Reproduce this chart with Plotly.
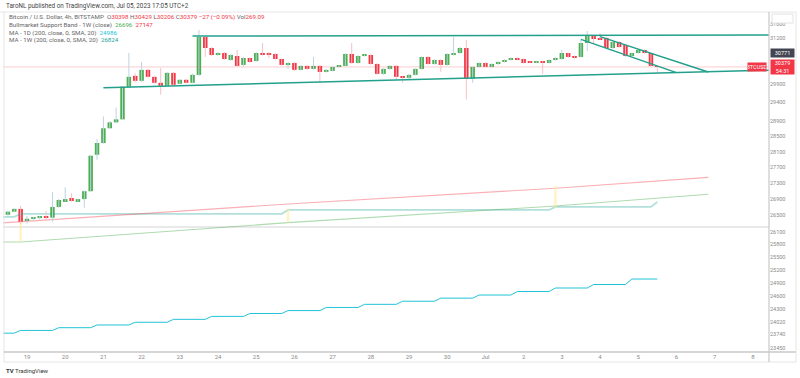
import math
import pandas as pd
import plotly.graph_objects as go

# ---------------- data ----------------
candle_start = "2023-06-18 12:00"   # 4h candles, BITSTAMP BTCUSD
opens = [26510, 26585, 26654, 26365, 26413, 26437, 26461, 26440, 26702, 26848,
         26922, 26848, 26897, 27092, 28018, 28323, 28711, 28867, 28947, 29829,
         30130, 29993, 30297, 30103, 29938, 29856, 30213, 29911, 30021, 29938,
         30158, 31229, 30914, 30716, 30772, 30575, 30688, 30436, 30631, 30547,
         30760, 30744, 30744, 30603, 30436, 30491, 30297, 30408, 30324, 30408,
         30241, 30269, 30380, 30408, 30744, 30491, 30688, 30716, 30463, 30186,
         30324, 30408, 30103, 30075, 30158, 30324, 30660, 30463, 30575, 30436,
         30716, 30772, 30914, 30048, 30380, 30491, 30380, 30463, 30519, 30575,
         30631, 30603, 30519, 30505, 30519, 30491, 30575, 30603, 30772, 30688,
         30660, 31057, 31257, 31200, 31200, 30914, 31085, 31000, 30688, 30772,
         30857, 30772, 30398]
highs = [26610, 26670, 26726, 26485, 26460, 26480, 26606, 27067, 26900, 27190,
         27043, 26910, 27110, 28010, 28427, 29024, 28900, 29263, 29850, 30772,
         30200, 30519, 30330, 30130, 30352, 30240, 30240, 30040, 30040, 30190,
         31431, 31260, 30940, 30800, 30800, 30740, 30857, 30660, 30650, 30800,
         31057, 30801, 30770, 30620, 30510, 30520, 30430, 30430, 30660, 30430,
         30320, 30400, 30430, 30770, 31057, 30710, 30740, 30740, 30480, 30350,
         30430, 30430, 30120, 30180, 30340, 30680, 30690, 30600, 30600, 30770,
         31229, 30940, 31143, 30400, 30510, 30510, 30480, 30540, 30600, 30650,
         30650, 30620, 30540, 30560, 30540, 30600, 30660, 30857, 30790, 30700,
         31143, 31402, 31290, 31344, 31230, 31110, 31110, 31030, 30790, 30880,
         30880, 30790, 30429]
lows = [26490, 26570, 26294, 26294, 26380, 26400, 26365, 26341, 26680, 26830,
        26830, 26820, 26679, 27070, 27890, 28300, 28690, 28850, 28930, 29800,
        29950, 29960, 30080, 29900, 29612, 29830, 29860, 29890, 29920, 29920,
        30130, 30660, 30690, 30690, 30580, 30550, 30380, 30380, 30500, 30520,
        30700, 30631, 30580, 30410, 30324, 30270, 30280, 30300, 30300, 29965,
        30220, 30250, 30360, 30390, 30470, 30470, 30670, 30440, 30160, 30160,
        30300, 30021, 29938, 30050, 30140, 30300, 30440, 30440, 30241, 30410,
        30700, 30750, 29478, 29938, 30360, 30360, 30360, 30440, 30500, 30560,
        30560, 30470, 30490, 30490, 30186, 30470, 30560, 30580, 30640, 30610,
        30640, 30829, 31050, 31150, 30890, 30890, 30920, 30660, 30670, 30750,
        30750, 30390, 30206]
closes = [26585, 26654, 26341, 26413, 26437, 26461, 26440, 26702, 26873, 26897,
          26848, 26897, 27092, 27992, 28323, 28711, 28867, 28947, 29829, 30103,
          29993, 30297, 30103, 29938, 29856, 30213, 29884, 30021, 29938, 30158,
          31229, 30914, 30716, 30772, 30603, 30716, 30408, 30631, 30519, 30772,
          30730, 30730, 30603, 30436, 30491, 30297, 30408, 30324, 30408, 30241,
          30297, 30380, 30408, 30744, 30491, 30688, 30716, 30463, 30186, 30324,
          30408, 30103, 30075, 30158, 30324, 30660, 30463, 30575, 30436, 30744,
          30772, 30914, 30048, 30380, 30491, 30380, 30463, 30519, 30575, 30631,
          30575, 30491, 30505, 30547, 30491, 30575, 30631, 30772, 30660, 30631,
          31057, 31257, 31171, 31171, 30914, 31085, 30943, 30688, 30772, 30857,
          30772, 30406, 30379]
volume_last = 269.09

# indicators
ma_1d_daily = [23770, 23830, 23890, 23950, 24010, 24075, 24140, 24205, 24270,
               24340, 24410, 24480, 24550, 24620, 24700, 24780, 24860, 24986]
ma_1w_weekly = [26461, 26533, 26630, 26702]
ma_1w_live = 26824
bsb_times = ["2023-06-18 08:00", "2023-06-18 20:00", "2023-06-25 20:00",
             "2023-07-02 20:00", "2023-07-06 20:00"]
bsb_sma = [26310, 26341, 26776, 27167, 27440]
bsb_ema = [25852, 25852, 26318, 26726, 27018]
bsb_legend = [26696, 27147]
week_marks = ["2023-06-18 20:00", "2023-06-25 20:00", "2023-07-02 20:00"]
week_mark_lo = [25852, 26318, 26679]
week_mark_hi = [26318, 26660, 27216]

# drawings
tl_top_t = ["2023-06-23 08:00", "2023-07-08 12:00"]
tl_top_p = [31257, 31290]
tl_sup_t = ["2023-06-21 00:00", "2023-07-08 12:00"]
tl_sup_p = [29802, 30290]
tl_d1_t = ["2023-07-03 12:00", "2023-07-06 00:00"]
tl_d1_p = [31160, 30220]
tl_d2_t = ["2023-07-04 00:00", "2023-07-06 20:00"]
tl_d2_p = [31240, 30240]
hline_grey = 26212
marker_price = 30771
countdown = "54:31"

y_ticks = [31600, 31200, 29900, 29400, 28900, 28500, 28100, 27700, 27300, 26900,
           26500, 26100, 25800, 25500, 25200, 24900, 24600, 24300, 24020, 23740, 23450]
x_tick_days = pd.date_range("2023-06-19", "2023-07-08", freq="D")
x_tick_text = ["Jul" if d.day == 1 else str(d.day) for d in x_tick_days]

# ---------------- styles ----------------
GREEN = "#4caf50"
RED = "#f23645"
TEAL = "#26a69a"
FONT = "Roboto"

times = pd.date_range(candle_start, periods=len(opens), freq="4h")
bar_ms = 4 * 3600 * 1000 * 0.7

fig = go.Figure()


def hline(price, color, width):
    fig.add_trace(go.Scatter(x=[times[0] - pd.Timedelta("1D"), pd.Timestamp("2023-07-09")],
                             y=[price, price], mode="lines",
                             line=dict(color=color, width=width), hoverinfo="skip"))


hline(hline_grey, "#e2e2e2", 1.5)
hline(closes[-1], "rgba(242,54,69,0.25)", 1)

# MA 1D (daily steps on 4h bars)
day_idx, d = [], 0
for t in times:
    if t.hour == 20:
        d += 1
    day_idx.append(d)
ma1d_x = [times[0] - pd.Timedelta("4h")] + list(times)
ma1d_y = [ma_1d_daily[0]] + [ma_1d_daily[i] for i in day_idx]
fig.add_trace(go.Scatter(x=ma1d_x, y=ma1d_y, mode="lines",
                         line=dict(color="#22c3d8", width=1), hoverinfo="skip"))

# MA 1W (weekly steps)
wk_idx, w = [], 0
for t in times:
    if t.dayofweek == 6 and t.hour == 20:
        w += 1
    wk_idx.append(w)
ma1w_x = [times[0] - pd.Timedelta("4h")] + list(times)
ma1w_y = [ma_1w_weekly[0]] + [ma_1w_weekly[i] for i in wk_idx]
ma1w_y[-1] = ma_1w_live
fig.add_trace(go.Scatter(x=ma1w_x, y=ma1w_y, mode="lines",
                         line=dict(color="rgba(38,166,154,0.35)", width=1.8), hoverinfo="skip"))

# Bull market support band
fig.add_trace(go.Scatter(x=bsb_times, y=bsb_sma, mode="lines",
                         line=dict(color="rgba(242,54,69,0.4)", width=1.1), hoverinfo="skip"))
fig.add_trace(go.Scatter(x=bsb_times, y=bsb_ema, mode="lines",
                         line=dict(color="rgba(76,175,80,0.45)", width=1.1), hoverinfo="skip"))
wx, wy = [], []
for t, lo, hi in zip(week_marks, week_mark_lo, week_mark_hi):
    wx += [t, t, None]
    wy += [lo, hi, None]
fig.add_trace(go.Scatter(x=wx, y=wy, mode="lines",
                         line=dict(color="rgba(255,235,150,0.55)", width=2.5), hoverinfo="skip"))

# candles: wicks
ux, uy, dx, dy = [], [], [], []
for t, o, h, l, c in zip(times, opens, highs, lows, closes):
    if c >= o:
        ux += [t, t, None]; uy += [l, h, None]
    else:
        dx += [t, t, None]; dy += [l, h, None]
fig.add_trace(go.Scatter(x=ux, y=uy, mode="lines", line=dict(color="#bcd4e4", width=1), hoverinfo="skip"))
fig.add_trace(go.Scatter(x=dx, y=dy, mode="lines", line=dict(color="#f6c0c6", width=1), hoverinfo="skip"))

# candles: bodies
for up, col in ((True, GREEN), (False, RED)):
    bx, bb, bl = [], [], []
    for t, o, c in zip(times, opens, closes):
        if (c >= o) == up:
            bx.append(t)
            bb.append(min(o, c))
            bl.append(max(abs(c - o), 8))
    fig.add_trace(go.Bar(x=bx, y=bl, base=bb, width=bar_ms,
                         marker=dict(color=col, line=dict(width=0)), hoverinfo="skip"))

# trendlines
for tt, pp in ((tl_top_t, tl_top_p), (tl_sup_t, tl_sup_p), (tl_d1_t, tl_d1_p), (tl_d2_t, tl_d2_p)):
    fig.add_trace(go.Scatter(x=tt, y=pp, mode="lines",
                             line=dict(color="#22a08c", width=1.5), hoverinfo="skip"))

# ---------------- layout ----------------
W, H = 800, 378
ML, MR, MT, MB = 3, 31, 12, 26
PW, PH = W - ML - MR, H - MT - MB


def px(X):
    return (X - ML) / PW


def py(Y):
    return (H - MB - Y) / PH


fig.update_layout(
    width=W, height=H, margin=dict(l=ML, r=MR, t=MT, b=MB, autoexpand=False),
    paper_bgcolor="white", plot_bgcolor="white", showlegend=False,
    barmode="overlay", font=dict(family=FONT, size=6, color="#777"),
    xaxis=dict(type="date", range=["2023-06-18 08:55", "2023-07-08 10:10"],
               tickvals=list(x_tick_days), ticktext=x_tick_text, automargin=False,
               showgrid=False, zeroline=False, showline=False, ticks="",
               tickfont=dict(size=6, color="#8a8a8a")),
    yaxis=dict(type="log", side="right", automargin=False,
               range=[math.log10(23361), math.log10(31957)],
               tickvals=y_ticks, ticktext=[str(v) for v in y_ticks],
               showgrid=False, zeroline=False, showline=False, ticks="",
               tickfont=dict(size=5.5, color="#8a8a8a")),
)

line_c = "#c9c9c9"
shapes = [
    dict(type="line", xref="paper", yref="paper", x0=px(0), x1=px(796), y0=1, y1=1,
         line=dict(color="#e6e6e6", width=1)),
    dict(type="line", xref="paper", yref="paper", x0=px(4), x1=px(4), y0=py(362), y1=1,
         line=dict(color="#e6e6e6", width=1)),
    dict(type="line", xref="paper", yref="paper", x0=px(4), x1=px(796), y0=py(362), y1=py(362),
         line=dict(color="#e6e6e6", width=1)),
    dict(type="line", xref="paper", yref="paper", x0=px(4), x1=px(796), y0=0, y1=0,
         line=dict(color=line_c, width=1.5)),
    dict(type="line", xref="paper", yref="paper", x0=1, x1=1, y0=py(362), y1=1,
         line=dict(color=line_c, width=1.2)),
    dict(type="line", xref="paper", yref="paper", x0=px(796), x1=px(796), y0=py(362), y1=1,
         line=dict(color="#e6e6e6", width=1)),
    dict(type="rect", xref="paper", yref="paper", x0=px(772), x1=px(793), y0=py(23), y1=py(14),
         line=dict(color="#e2e2e2", width=1), fillcolor="white"),
]
fig.update_layout(shapes=shapes)

o, h, l, c = opens[-1], highs[-1], lows[-1], closes[-1]
chg = c - closes[-2]
pct = chg / closes[-2] * 100


def r(v):
    return f'<span style="color:{RED}">{v}</span>'


mn = "\u2212"
line1 = (f"Bitcoin / U.S. Dollar, 4h, BITSTAMP&nbsp; O{r(o)} H{r(h)} L{r(l)} C{r(c)} "
         f"{r(f'{mn}{abs(chg)} ({mn}{abs(pct):.2f}%)')} Vol{r(f'{volume_last:.2f}')}")
line2 = (f'Bullmarket Support Band - 1W (close)&nbsp; <span style="color:{GREEN}">{bsb_legend[0]}</span>'
         f'&nbsp; <span style="color:{RED}">{bsb_legend[1]}</span>')
line3 = f'MA - 1D (200, close, 0, SMA, 20)&nbsp; <span style="color:#22c3d8">{ma_1d_daily[-1]}</span>'
line4 = f'MA - 1W (200, close, 0, SMA, 20)&nbsp; <span style="color:{TEAL}">{ma_1w_live}</span>'

ann = []


def txt(X, Y, s, size=6, color="#555", anchor="left"):
    ann.append(dict(xref="paper", yref="paper", x=px(X), y=py(Y), text=s, showarrow=False,
                    xanchor=anchor, yanchor="middle",
                    font=dict(family=FONT, size=size, color=color)))


txt(4, 6, "TaroNL published on TradingView.com, Jul 05, 2023 17:05 UTC+2", 6.3, "#444")
txt(7, 17, line1, 6.2, "#666")
txt(7, 25, line2, 6.2, "#666")
txt(7, 33, line3, 6.2, "#666")
txt(7, 40, line4, 6.2, "#666")
txt(4, 370, "<b>TV</b> TradingView", 6, "#333")


def price_label(price, text, bg, height, right=True):
    ann.append(dict(xref="paper", yref="y", x=1, y=math.log10(price), text=text,
                    showarrow=False, xanchor="left" if right else "right",
                    xshift=1 if right else -2, yanchor="middle",
                    bgcolor=bg, borderpad=0, width=23 if right else 18, height=height,
                    font=dict(family=FONT, size=5.5, color="white")))


price_label(marker_price, str(marker_price), "#434651", 8)
price_label(c, f"{c}<br>{countdown}", RED, 14)
price_label(c, "BTCUSD", RED, 8, right=False)
fig.update_layout(annotations=ann)

fig.write_html("out.html", include_plotlyjs=True,
               config={"displayModeBar": False},
               post_script="document.body.style.margin='0';document.body.style.padding='0';")
